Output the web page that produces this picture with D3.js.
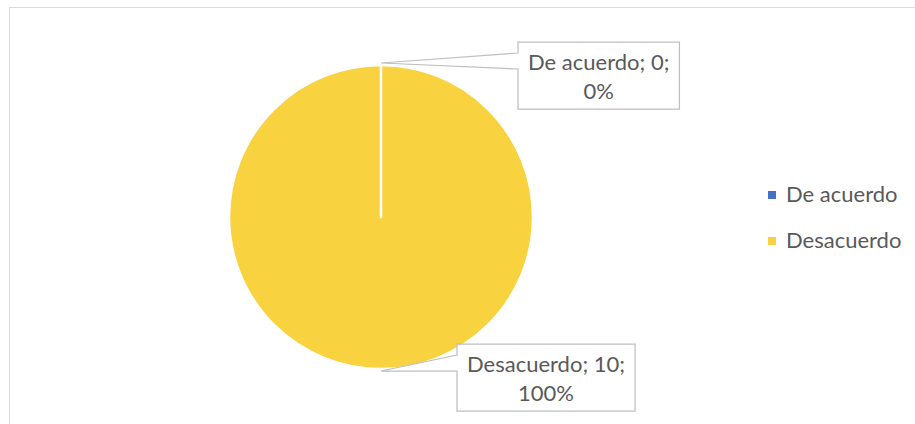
<!DOCTYPE html>
<html>
<head>
<meta charset="utf-8">
<script src="https://cdn.jsdelivr.net/npm/d3@7"></script>
<style>
  html, body { margin: 0; padding: 0; background: #fff; }
  svg text { font-family: Lato, "Open Sans", sans-serif; fill: #595959; }
</style>
</head>
<body>
<svg id="chart" width="915" height="424"></svg>
<script>
// Pie chart: De acuerdo / Desacuerdo

var categories = ["De acuerdo", "Desacuerdo"];
var values = [0, 10];
var colors = ["#4472C4", "#F9D23F"];

var width = 915,
    height = 424,
    cx = 381,
    cy = 217,
    radius = 152,
    fontSize = 22;

var svg = d3.select("#chart");

// outer chart border (runs off the right and bottom edges)
svg.append("rect")
  .attr("x", 9.5)
  .attr("y", 7.5)
  .attr("width", width)
  .attr("height", height)
  .attr("fill", "none")
  .attr("stroke", "#D9D9D9")
  .attr("stroke-width", 1);

var total = d3.sum(values);
var pct = d3.format(".0%");

var pie = d3.pie().sort(null).value(function(d) { return d; });
var arcs = pie(values);
var arc = d3.arc().innerRadius(0).outerRadius(radius);

var g = svg.append("g")
  .attr("transform", "translate(" + cx + "," + cy + ")");

// slices, drawn last-to-first so the empty slice's white edge stays on top
g.selectAll("path.slice")
  .data(arcs.slice().reverse())
  .join("path")
    .attr("class", "slice")
    .attr("d", arc)
    .attr("fill", function(d) { return colors[d.index]; })
    .attr("stroke", "#fff")
    .attr("stroke-width", 2.5)
    .attr("stroke-linejoin", "round")
    .attr("stroke-linecap", "round");

// data callouts: box with a wedge pointing back at the slice
var callout_offsets = [[137, -21], [76, -27]];   // box left/top vs anchor
var box_height = 67,
    box_pad = 10;

arcs.forEach(function(d, i) {
  var mid = (d.startAngle + d.endAngle) / 2,
      ax = cx + Math.sin(mid) * (radius + 2),
      ay = cy - Math.cos(mid) * (radius + 2);

  var lines = [categories[i] + "; " + values[i] + ";", pct(values[i] / total)];

  var cg = svg.append("g");
  var box = cg.append("path");

  var bx = ax + callout_offsets[i][0],
      by = ay + callout_offsets[i][1];

  var texts = cg.selectAll("text")
    .data(lines)
    .join("text")
      .attr("text-anchor", "middle")
      .attr("font-size", fontSize)
      .attr("y", function(t, j) { return by + 28 + j * 28.5; })
      .text(function(t) { return t; });

  var tw = d3.max(texts.nodes(), function(n) { return n.getComputedTextLength(); });
  var bw = tw + 2 * box_pad;
  texts.attr("x", bx + bw / 2);

  box.attr("d",
      "M" + bx + "," + by +
      "H" + (bx + bw) +
      "V" + (by + box_height) +
      "H" + bx +
      "V" + (by + 27) +
      "L" + ax + "," + ay +
      "L" + bx + "," + (by + 11) +
      "Z")
    .attr("fill", "#fff")
    .attr("stroke", "#BFBFBF")
    .attr("stroke-width", 1.25);
});

// legend
var legend = svg.append("g")
  .attr("transform", "translate(768,191)");

var items = legend.selectAll("g")
  .data(categories)
  .join("g")
    .attr("transform", function(d, i) { return "translate(0," + i * 46 + ")"; });

items.append("rect")
  .attr("width", 8)
  .attr("height", 8)
  .attr("fill", function(d, i) { return colors[i]; });

items.append("text")
  .attr("x", 18)
  .attr("y", 11)
  .attr("font-size", fontSize)
  .text(function(d) { return d; });
</script>
</body>
</html>
